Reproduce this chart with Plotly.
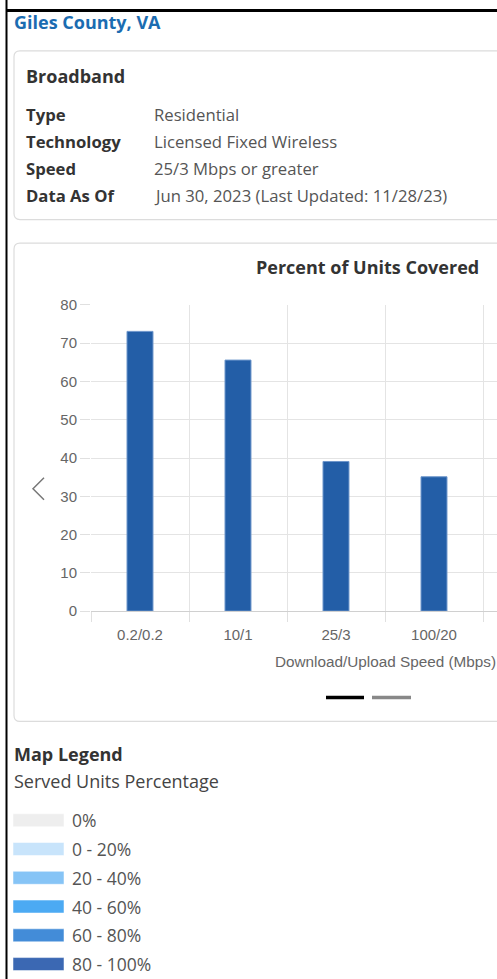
import plotly.graph_objects as go

# ---------------- data ----------------
speed_tiers = ["0.2/0.2", "10/1", "25/3", "100/20"]
pct_units_covered = [73.1, 65.6, 39.1, 35.1]
y_ticks = [0, 10, 20, 30, 40, 50, 60, 70, 80]

info_labels = ["Type", "Technology", "Speed", "Data As Of"]
info_values = ["Residential", "Licensed Fixed Wireless", "25/3 Mbps or greater",
               "Jun 30, 2023 (Last Updated: 11/28/23)"]

legend_labels = ["0%", "0 - 20%", "20 - 40%", "40 - 60%", "60 - 80%", "80 - 100%"]
legend_colors = ["#eeeeee", "#c8e4fb", "#86c4f6", "#4caaf3", "#438cd8", "#3b68b3"]

W, H = 497, 979
# the captured page is vertically offset/compressed slightly; layout positions below
# are given in target-picture pixels and converted here
Y_OFF, Y_SCALE = 7.6, 0.984


def px(x):
    return x / W


def py(y):
    yf = (y - Y_OFF) / Y_SCALE
    return 1 - yf / H


UI = "Open Sans"
CH = "Liberation Sans, Arial"

fig = go.Figure()
fig.add_trace(go.Bar(
    x=list(range(len(speed_tiers))), y=pct_units_covered,
    width=0.265,
    marker=dict(color="#235ea7", line=dict(color="#6d96cb", width=1)),
    hoverinfo="skip",
))

shapes = []
ann = []

# outer black border (top & left)
shapes.append(dict(type="line", xref="paper", yref="paper", x0=px(6), x1=px(W + 5), y0=1 - 1.5 / H, y1=1 - 1.5 / H,
                   line=dict(color="#000", width=3)))
shapes.append(dict(type="line", xref="paper", yref="paper", x0=px(6.5), x1=px(6.5), y0=1.01, y1=-0.01,
                   line=dict(color="#000", width=2)))


def rounded_box(x0, y0, x1, y1, r=6):
    pts = (f"M {px(x0 + r)},{py(y0)} L {px(x1)},{py(y0)} L {px(x1)},{py(y1)} "
           f"L {px(x0 + r)},{py(y1)} Q {px(x0)},{py(y1)} {px(x0)},{py(y1 - r)} "
           f"L {px(x0)},{py(y0 + r)} Q {px(x0)},{py(y0)} {px(x0 + r)},{py(y0)} Z")
    return dict(type="path", xref="paper", yref="paper", path=pts,
                line=dict(color="#dcdcdc", width=1.2), fillcolor="rgba(0,0,0,0)", layer="below")


shapes.append(rounded_box(14, 49.5, W + 10, 218.5))
shapes.append(rounded_box(14, 242, W + 10, 721))

# header
ann.append(dict(text="<b>Giles County, VA</b>", x=px(12), y=py(21), xanchor="left", yanchor="middle",
                font=dict(family=UI, size=18, color="#1b6cb1")))
ann.append(dict(text="<b>Broadband</b>", x=px(24), y=py(75), xanchor="left", yanchor="middle",
                font=dict(family=UI, size=18, color="#333333")))
for i, (lab, val) in enumerate(zip(info_labels, info_values)):
    yy = 113 + i * 27
    ann.append(dict(text=f"<b>{lab}</b>", x=px(24), y=py(yy), xanchor="left", yanchor="middle",
                    font=dict(family=UI, size=16.7, color="#333333")))
    ann.append(dict(text=val, x=px(152), y=py(yy), xanchor="left", yanchor="middle",
                    font=dict(family=UI, size=16.7, color="#555555")))

# chart title & axis title
ann.append(dict(text="<b>Percent of Units Covered</b>", x=px(367), y=py(266), xanchor="center", yanchor="middle",
                font=dict(family=UI, size=18, color="#333333")))
ann.append(dict(text="Download/Upload Speed (Mbps)", x=px(385), y=py(661), xanchor="center", yanchor="middle",
                font=dict(family=CH, size=15.3, color="#666666")))

# carousel arrow
shapes.append(dict(type="path", xref="paper", yref="paper",
                   path=f"M {px(44)},{py(477)} L {px(33)},{py(488)} L {px(44)},{py(499)}",
                   line=dict(color="#777777", width=1.5)))
# pagination indicators
shapes.append(dict(type="line", xref="paper", yref="paper", x0=px(326), x1=px(364), y0=py(697), y1=py(697),
                   line=dict(color="#000000", width=3.5)))
shapes.append(dict(type="line", xref="paper", yref="paper", x0=px(372), x1=px(411), y0=py(697), y1=py(697),
                   line=dict(color="#888888", width=3.5)))

# map legend
ann.append(dict(text="<b>Map Legend</b>", x=px(12), y=py(754), xanchor="left", yanchor="middle",
                font=dict(family=UI, size=18, color="#333333")))
ann.append(dict(text="Served Units Percentage", x=px(12), y=py(781), xanchor="left", yanchor="middle",
                font=dict(family=UI, size=18, color="#444444")))
for i, (lab, col) in enumerate(zip(legend_labels, legend_colors)):
    yc = 820 + i * 28.8
    shapes.append(dict(type="rect", xref="paper", yref="paper", x0=px(13), x1=px(64),
                       y0=py(yc - 6.5), y1=py(yc + 6.5), fillcolor=col,
                       line=dict(color="rgba(255,255,255,0.5)", width=1)))
    ann.append(dict(text=lab, x=px(70), y=py(yc), xanchor="left", yanchor="middle",
                    font=dict(family=UI, size=17.5, color="#555555")))

for a in ann:
    a.update(xref="paper", yref="paper", showarrow=False)

x0_px, unit_px = 91, 98
fig.update_layout(
    width=W, height=H,
    margin=dict(l=0, r=0, t=0, b=0),
    paper_bgcolor="white", plot_bgcolor="white",
    showlegend=False,
    shapes=shapes, annotations=ann,
    xaxis=dict(
        domain=[px(x0_px), 1],
        range=[-0.5, -0.5 + (W - x0_px) / unit_px],
        tickvals=list(range(len(speed_tiers))), ticktext=speed_tiers,
        showgrid=False, zeroline=False, showline=False,
        ticks="outside", ticklen=10, tickcolor="rgba(0,0,0,0)",
        tickfont=dict(family=CH, size=15, color="#666666"),
        minor=dict(tick0=-0.5, dtick=1, showgrid=True, gridcolor="#e4e4e4", gridwidth=1,
                   ticks="outside", ticklen=10, tickcolor="#e0e0e0"),
        fixedrange=True,
    ),
    yaxis=dict(
        domain=[py(610.5), py(304)],
        range=[0, 80], tickvals=y_ticks,
        showgrid=True, gridcolor="#e4e4e4", gridwidth=1,
        zeroline=True, zerolinecolor="#d0d0d0", zerolinewidth=1,
        ticks="outside", ticklen=10, tickcolor="#e0e0e0",
        tickfont=dict(family=CH, size=15, color="#666666"),
        fixedrange=True,
    ),
)

fig.write_html(
    "out.html",
    config={"displayModeBar": False},
    post_script="document.documentElement.style.margin='0';document.body.style.margin='0';"
                "document.documentElement.style.overflow='hidden';document.body.style.overflow='hidden';",
)
